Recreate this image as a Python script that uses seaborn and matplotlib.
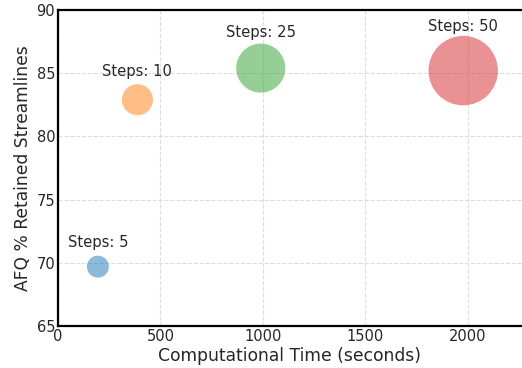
import matplotlib
matplotlib.use("Agg")

import numpy as np
import pandas as pd
import matplotlib.pyplot as plt
import seaborn as sns

# ===============================
# data
# ===============================
steps = [5, 10, 25, 50]
comp_time = [195, 388, 990, 1978]
retained = [69.7, 82.9, 85.4, 85.2]
colors = ["#1f77b4", "#ff7f0e", "#2ca02c", "#d62728"]

df = pd.DataFrame({"steps": steps, "time": comp_time, "retained": retained})
df["size"] = df["steps"] * 50

sns.set_style("whitegrid")
plt.rcParams["font.family"] = ["DejaVu Sans"]

fig = plt.figure(figsize=(5.22, 3.68), dpi=100)
ax = fig.add_axes([0.111, 0.114, 0.889, 0.859])

sns.scatterplot(
    data=df,
    x="time",
    y="retained",
    hue="steps",
    palette=colors,
    size="size",
    sizes=(df["size"].min(), df["size"].max()),
    alpha=0.5,
    edgecolor=None,
    linewidth=0,
    legend=False,
    ax=ax,
)

for _, row in df.iterrows():
    off = 5.8 + 0.41 * np.sqrt(row["size"])
    ax.annotate(
        f"Steps: {int(row['steps'])}",
        (row["time"], row["retained"]),
        xytext=(0, off),
        textcoords="offset points",
        ha="center",
        va="bottom",
        fontsize=10.6,
        color="#262626",
    )

ax.set_xlim(0, 2265)
ax.set_ylim(65, 90)
ax.set_xticks([0, 500, 1000, 1500, 2000])
ax.set_yticks([65, 70, 75, 80, 85, 90])
ax.grid(True, linestyle="--", color="#dddddd", linewidth=0.8)
ax.tick_params(labelsize=10.5, length=0, pad=2, labelcolor="#262626")

for side in ["left", "bottom", "top"]:
    ax.spines[side].set_color("black")
    ax.spines[side].set_linewidth(1.6)
ax.spines["right"].set_visible(False)

ax.set_xlabel("Computational Time (seconds)", fontsize=12.3, labelpad=2, color="#262626")
ax.set_ylabel("AFQ % Retained Streamlines", fontsize=12.3, labelpad=3, color="#262626")

plt.savefig("out.png", dpi=100)
plt.close()
